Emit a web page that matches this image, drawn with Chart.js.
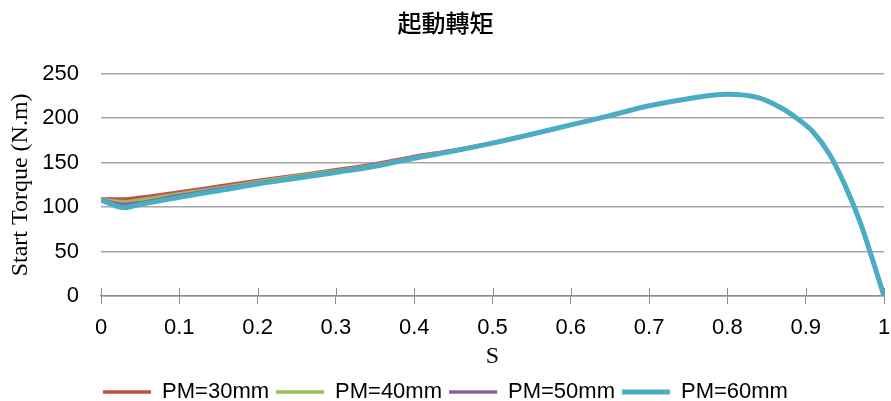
<!DOCTYPE html>
<html>
<head>
<meta charset="utf-8">
<script src="https://cdn.jsdelivr.net/npm/chart.js@4"></script>
<style>
  html, body { margin: 0; padding: 0; background: #fff; }
  #wrap { width: 891px; height: 401px; }
</style>
</head>
<body>
<div id="wrap"><canvas id="torqueChart" width="891" height="401"></canvas></div>
<script>
// slip values
const slip = [0, 0.01, 0.02, 0.03, 0.04, 0.05, 0.1, 0.15, 0.2, 0.25, 0.3, 0.35, 0.4, 0.45, 0.5,
  0.55, 0.6, 0.65, 0.7, 0.75, 0.8, 0.84, 0.87, 0.89, 0.91, 0.93, 0.95, 0.97, 0.99, 1];

const pm30 = [109, 109, 109, 109, 110, 111, 117, 123.5, 130, 136, 142, 148.5, 157, 164, 172.5,
  182, 192.5, 203, 214, 222, 227, 223, 211, 199, 184, 160, 125, 82, 28, 0];
const pm40 = [108.5, 107.5, 106.5, 106, 107, 108, 115, 121.5, 128.5, 135, 141, 147.5, 156, 163.5, 172,
  182, 192.5, 203, 214, 222, 227, 223, 211, 199, 184, 160, 125, 82, 28, 0];
const pm50 = [108, 106, 104, 103, 104, 105, 113, 120, 127, 133.5, 140, 146.5, 155.5, 163, 172,
  182, 192.5, 203, 214, 222, 227, 223, 211, 199, 184, 160, 125, 82, 28, 0];
const pm60 = [108, 104.5, 101, 99.5, 101, 103, 111, 118.5, 126, 132.5, 139, 146, 155, 163, 172,
  182, 192.5, 203, 214, 222, 227, 223, 211, 199, 184, 160, 125, 82, 28, 0];

const xTicks = [0, 0.1, 0.2, 0.3, 0.4, 0.5, 0.6, 0.7, 0.8, 0.9, 1];

const sans = '"Liberation Sans", Arial, sans-serif';
const serif = '"Liberation Serif", "Times New Roman", serif';
const axisGray = "#8c8c8c";

function pts(vals) {
  return slip.map((s, i) => ({ x: s, y: vals[i] }));
}

function series(label, vals, color, width, order) {
  return {
    label,
    data: pts(vals),
    borderColor: color,
    backgroundColor: color,
    borderWidth: width,
    pointRadius: 0,
    cubicInterpolationMode: 'monotone',
    fill: false,
    order
  };
}

// tick marks on the x axis cross the axis line, draw the upper half here
const crossTicks = {
  id: 'crossTicks',
  beforeDatasetsDraw(chart) {
    const { ctx, scales: { x }, chartArea } = chart;
    ctx.save();
    ctx.strokeStyle = axisGray;
    ctx.lineWidth = 1;
    xTicks.forEach(v => {
      const px = Math.round(x.getPixelForValue(v)) + 0.5;
      ctx.beginPath();
      ctx.moveTo(px, chartArea.bottom - 8);
      ctx.lineTo(px, chartArea.bottom);
      ctx.stroke();
    });
    ctx.restore();
  }
};

new Chart(document.getElementById("torqueChart"), {
  type: 'line',
  data: {
    datasets: [
      series("PM=30mm", pm30, "#C0504D", 3.5, 4),
      series("PM=40mm", pm40, "#9BBB59", 3.5, 3),
      series("PM=50mm", pm50, "#8064A2", 3.5, 2),
      series("PM=60mm", pm60, "#4BACC6", 5, 1)
    ]
  },
  plugins: [crossTicks],
  options: {
    responsive: false,
    animation: false,
    devicePixelRatio: 1,
    layout: { padding: { left: 0, right: 0, top: 0, bottom: -12 } },
    plugins: {
      title: {
        display: true,
        text: "起動轉矩",
        color: "#000",
        font: { family: '"Noto Sans CJK TC", sans-serif', size: 24, weight: '500', lineHeight: 1.2 },
        padding: { top: 8, bottom: 37 }
      },
      legend: {
        position: 'bottom',
        labels: {
          usePointStyle: true,
          pointStyle: 'line',
          pointStyleWidth: 48,
          color: "#000",
          font: { family: sans, size: 22 },
          padding: 7,
          sort: (a, b) => a.datasetIndex - b.datasetIndex
        }
      },
      tooltip: { enabled: false }
    },
    scales: {
      x: {
        type: 'linear',
        min: 0,
        max: 1,
        afterBuildTicks: axis => { axis.ticks = xTicks.map(v => ({ value: v })); },
        afterFit: axis => { axis.height = 78; axis.paddingRight = 7; },
        ticks: {
          color: "#000",
          font: { family: sans, size: 22 },
          padding: 11,
          maxRotation: 0,
          callback: v => String(v)
        },
        grid: { drawOnChartArea: false, tickLength: 8, color: axisGray, lineWidth: 1 },
        border: { display: true, color: axisGray, width: 1.5 },
        title: {
          display: true,
          text: "S",
          color: "#000",
          font: { family: serif, size: 24, lineHeight: 1.2 },
          padding: { top: 0, bottom: 3 }
        }
      },
      y: {
        min: 0,
        max: 250,
        ticks: {
          stepSize: 50,
          color: "#000",
          font: { family: sans, size: 22 },
          padding: 22
        },
        afterFit: axis => { axis.width = 101; },
        grid: { color: "#a6a6a6", lineWidth: 1.5, tickLength: 0 },
        border: { display: false },
        title: {
          display: true,
          text: "Start Torque (N.m)",
          color: "#000",
          font: { family: serif, size: 24, lineHeight: 1.2 },
          padding: { top: 6, bottom: 0 }
        }
      }
    }
  }
});
</script>
</body>
</html>
